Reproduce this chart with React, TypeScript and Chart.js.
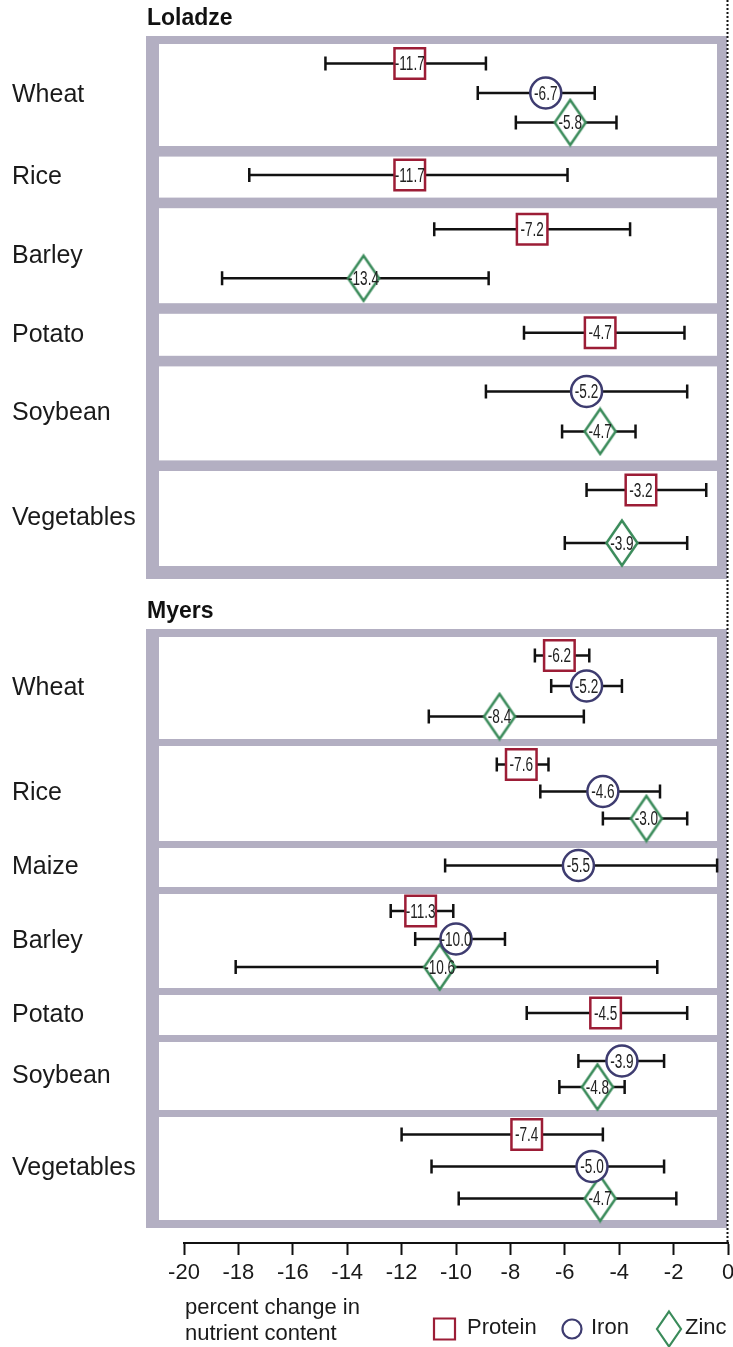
import React, { useEffect, useRef } from 'react';
import { Chart, registerables } from 'chart.js';

Chart.register(...registerables);

// ---------- DATA ----------
const sectionTitles = ['Loladze', 'Myers'];
const nutrientNames = ['Protein', 'Iron', 'Zinc'];

const loladzeCrops = ['Wheat', 'Rice', 'Barley', 'Potato', 'Soybean', 'Vegetables'];
const loladzeProtein = [-11.7, -11.7, -7.2, -4.7, null, -3.2];
const loladzeProteinLow = [-14.8, -17.6, -10.8, -7.5, null, -5.2];
const loladzeProteinHigh = [-8.9, -5.9, -3.6, -1.6, null, -0.8];
const loladzeIron = [-6.7, null, null, null, -5.2, null];
const loladzeIronLow = [-9.2, null, null, null, -8.9, null];
const loladzeIronHigh = [-4.9, null, null, null, -1.5, null];
const loladzeZinc = [-5.8, null, -13.4, null, -4.7, -3.9];
const loladzeZincLow = [-7.8, null, -18.6, null, -6.1, -6.0];
const loladzeZincHigh = [-4.1, null, -8.8, null, -3.4, -1.5];

const myersCrops = ['Wheat', 'Rice', 'Maize', 'Barley', 'Potato', 'Soybean', 'Vegetables'];
const myersProtein = [-6.2, -7.6, null, -11.3, -4.5, null, -7.4];
const myersProteinLow = [-7.1, -8.5, null, -12.4, -7.4, null, -12.0];
const myersProteinHigh = [-5.1, -6.6, null, -10.1, -1.5, null, -4.6];
const myersIron = [-5.2, -4.6, -5.5, -10.0, null, -3.9, -5.0];
const myersIronLow = [-6.5, -6.9, -10.4, -11.5, null, -5.5, -10.9];
const myersIronHigh = [-3.9, -2.5, -0.4, -8.2, null, -2.35, -2.35];
const myersZinc = [-8.4, -3.0, null, -10.6, null, -4.8, -4.7];
const myersZincLow = [-11.0, -4.6, null, -18.1, null, -6.2, -9.9];
const myersZincHigh = [-5.3, -1.5, null, -2.6, null, -3.8, -1.9];

const xTicks = [-20, -18, -16, -14, -12, -10, -8, -6, -4, -2, 0];
const axisTitleLines = ['percent change in', 'nutrient content'];

// ---------- LAYOUT (vertical units of the y scale) ----------
const loladzeRowHeights = [102, 41, 95, 42, 94, 95];
const loladzeSpacing = [29.5, 0, 49, 0, 40, 53];
const myersRowHeights = [102, 95, 39, 94, 40, 68, 103];
const myersSpacing = [30.5, 27, 0, 28, 0, 26, 32];
const TITLE_BAND = 36;
const BORDER_TOP = 8;
const BORDER_BOTTOM = [13, 8];
const ROW_GAP = [10.6, 7];
const SECTION_GAP = 50;
const AXIS_GAP = 15;
const MARKER_SHIFT = -2;

const COLORS = ['#9c1d36', '#3e3c70', '#3a8b5a'];
const FRAME_COLOR = '#b3afc2';
const FONT = '"Liberation Sans", Arial, sans-serif';

type Sec = {
  crops: string[];
  heights: number[];
  spacing: number[];
  series: { v: (number | null)[]; lo: (number | null)[]; hi: (number | null)[] }[];
};

const sectionsInput: Sec[] = [
  {
    crops: loladzeCrops,
    heights: loladzeRowHeights,
    spacing: loladzeSpacing,
    series: [
      { v: loladzeProtein, lo: loladzeProteinLow, hi: loladzeProteinHigh },
      { v: loladzeIron, lo: loladzeIronLow, hi: loladzeIronHigh },
      { v: loladzeZinc, lo: loladzeZincLow, hi: loladzeZincHigh },
    ],
  },
  {
    crops: myersCrops,
    heights: myersRowHeights,
    spacing: myersSpacing,
    series: [
      { v: myersProtein, lo: myersProteinLow, hi: myersProteinHigh },
      { v: myersIron, lo: myersIronLow, hi: myersIronHigh },
      { v: myersZinc, lo: myersZincLow, hi: myersZincHigh },
    ],
  },
];

function buildLayout() {
  let y = TITLE_BAND;
  const sections: any[] = [];
  const allRows: { center: number; name: string }[] = [];
  const points: any[][] = [[], [], []];
  sectionsInput.forEach((s, si) => {
    const frameTop = y;
    let rowY = y + BORDER_TOP;
    const rows = s.heights.map((h, i) => {
      const r = { top: rowY, bottom: rowY + h, center: rowY + h / 2 };
      rowY += h + ROW_GAP[si];
      allRows.push({ center: r.center, name: s.crops[i] });
      const present = [0, 1, 2].filter((k) => s.series[k].v[i] !== null);
      const n = present.length;
      present.forEach((k, idx) => {
        const my = r.center + MARKER_SHIFT + (idx - (n - 1) / 2) * s.spacing[i];
        points[k].push({ x: s.series[k].v[i], y: my, low: s.series[k].lo[i], high: s.series[k].hi[i] });
      });
      return r;
    });
    const frameBottom = rows[rows.length - 1].bottom + BORDER_BOTTOM[si];
    sections.push({ title: sectionTitles[si], frameTop, frameBottom, rows });
    y = frameBottom + SECTION_GAP;
  });
  const last = sections[sections.length - 1];
  const yMax = last.frameBottom + AXIS_GAP;
  return { sections, allRows, points, yMax };
}

function makeDiamond(w: number, h: number, color: string, lw: number) {
  const c = document.createElement('canvas');
  c.width = Math.ceil(w + lw * 2);
  c.height = Math.ceil(h + lw * 2);
  const g = c.getContext('2d')!;
  const cx = c.width / 2, cy = c.height / 2;
  g.beginPath();
  g.moveTo(cx, cy - h / 2);
  g.lineTo(cx + w / 2, cy);
  g.lineTo(cx, cy + h / 2);
  g.lineTo(cx - w / 2, cy);
  g.closePath();
  g.fillStyle = '#fff';
  g.fill();
  g.lineWidth = lw;
  g.strokeStyle = color;
  g.lineJoin = 'miter';
  g.stroke();
  return c;
}

export default function App() {
  const ref = useRef<HTMLCanvasElement>(null);

  useEffect(() => {
    document.body.style.margin = '0';
    const canvas = ref.current!;
    const L = buildLayout();
    const diamond = makeDiamond(31, 45, COLORS[2], 2.5);

    const plugin = {
      id: 'forest',
      beforeDatasetsDraw(chart: any) {
        const { ctx, chartArea, scales } = chart;
        const x = scales.x, y = scales.y;
        ctx.save();
        const x0 = x.getPixelForValue(0);
        const outerL = chartArea.left - 38, outerR = x0 - 1;
        const innerL = chartArea.left - 25, innerR = x0 - 11;
        for (const sec of L.sections) {
          const t = y.getPixelForValue(sec.frameTop), b = y.getPixelForValue(sec.frameBottom);
          ctx.fillStyle = FRAME_COLOR;
          ctx.fillRect(outerL, t, outerR - outerL, b - t);
          ctx.fillStyle = '#ffffff';
          for (const r of sec.rows) {
            const rt = y.getPixelForValue(r.top), rb = y.getPixelForValue(r.bottom);
            ctx.fillRect(innerL, rt, innerR - innerL, rb - rt);
          }
        }
        ctx.strokeStyle = '#111';
        ctx.lineWidth = 2.5;
        ctx.lineCap = 'butt';
        chart.data.datasets.forEach((ds: any) => {
          ds.data.forEach((p: any) => {
            const py = y.getPixelForValue(p.y);
            const xl = x.getPixelForValue(p.low), xh = x.getPixelForValue(p.high);
            ctx.beginPath();
            ctx.moveTo(xl, py); ctx.lineTo(xh, py);
            ctx.moveTo(xl, py - 7); ctx.lineTo(xl, py + 7);
            ctx.moveTo(xh, py - 7); ctx.lineTo(xh, py + 7);
            ctx.stroke();
          });
        });
        ctx.restore();
      },
      afterDatasetsDraw(chart: any) {
        const { ctx, chartArea, scales } = chart;
        const x = scales.x, y = scales.y;
        ctx.save();
        ctx.fillStyle = '#222';
        ctx.font = `20px ${FONT}`;
        ctx.textAlign = 'center';
        ctx.textBaseline = 'middle';
        chart.data.datasets.forEach((ds: any, di: number) => {
          const meta = chart.getDatasetMeta(di);
          meta.data.forEach((el: any, j: number) => {
            const txt = ds.data[j].x.toFixed(1);
            ctx.save();
            ctx.translate(el.x, el.y + 1);
            ctx.scale(0.68, 1);
            ctx.fillText(txt, 0, 0);
            ctx.restore();
          });
        });
        const x0 = x.getPixelForValue(0);
        ctx.strokeStyle = '#111';
        ctx.lineWidth = 2;
        ctx.setLineDash([2, 2]);
        ctx.beginPath();
        ctx.moveTo(x0 - 0.5, 0);
        ctx.lineTo(x0 - 0.5, chartArea.bottom);
        ctx.stroke();
        ctx.setLineDash([]);
        ctx.fillStyle = '#111';
        ctx.font = `bold 23px ${FONT}`;
        ctx.textAlign = 'left';
        for (const sec of L.sections) {
          ctx.fillText(sec.title, chartArea.left - 37, y.getPixelForValue(sec.frameTop) - 17);
        }
        ctx.restore();
      },
      afterDraw(chart: any) {
        const { ctx, chartArea } = chart;
        ctx.save();
        ctx.fillStyle = '#1a1a1a';
        ctx.font = `22px ${FONT}`;
        ctx.textAlign = 'left';
        ctx.textBaseline = 'middle';
        axisTitleLines.forEach((t, i) => ctx.fillText(t, chartArea.left + 1, chartArea.bottom + 65 + i * 26));
        const ly = chartArea.bottom + 86;
        const starts = [433, 562, 656];
        ctx.lineWidth = 2.2;
        nutrientNames.forEach((name, i) => {
          const lx = starts[i];
          ctx.strokeStyle = COLORS[i];
          let tx = lx;
          ctx.beginPath();
          if (i === 0) {
            ctx.rect(lx + 1, ly - 10.5, 21, 21);
            tx = lx + 34;
          } else if (i === 1) {
            ctx.arc(lx + 10, ly, 9.5, 0, Math.PI * 2);
            tx = lx + 29;
          } else {
            ctx.moveTo(lx + 13, ly - 17.5);
            ctx.lineTo(lx + 25, ly);
            ctx.lineTo(lx + 13, ly + 17.5);
            ctx.lineTo(lx + 1, ly);
            ctx.closePath();
            tx = lx + 29;
          }
          ctx.stroke();
          ctx.font = `22px ${FONT}`;
          ctx.fillText(name, tx, ly - 1);
        });
        ctx.restore();
      },
    };

    const chart = new Chart(canvas, {
      type: 'scatter',
      data: {
        datasets: nutrientNames.map((name, i) => ({
          label: name,
          data: L.points[i],
          borderColor: COLORS[i],
          backgroundColor: '#ffffff',
          borderWidth: 2.5,
          pointStyle: i === 0 ? 'rect' : i === 1 ? 'circle' : (diamond as any),
          pointRadius: i === 0 ? 21.6 : i === 1 ? 15.5 : 20,
          pointHoverRadius: i === 0 ? 21.6 : i === 1 ? 15.5 : 20,
          clip: false as any,
        })),
      },
      options: {
        responsive: false,
        animation: false,
        events: [],
        layout: { autoPadding: false, padding: { left: 12, right: 5, top: 0, bottom: 0 } },
        plugins: { legend: { display: false }, tooltip: { enabled: false } },
        scales: {
          x: {
            type: 'linear',
            position: 'bottom',
            min: -20,
            max: 0,
            afterBuildTicks: (axis: any) => {
              axis.ticks = xTicks.map((v) => ({ value: v }));
            },
            afterFit: (scale: any) => {
              scale.height = 104;
              scale.paddingLeft = 0;
              scale.paddingRight = 0;
            },
            ticks: {
              autoSkip: false,
              maxRotation: 0,
              padding: 5,
              color: '#1a1a1a',
              font: { family: FONT, size: 22 },
              callback: (v: any) => String(v),
            },
            grid: {
              drawOnChartArea: false,
              drawTicks: true,
              tickLength: 12,
              tickWidth: 2,
              tickColor: '#111',
            },
            border: { display: true, color: '#111', width: 2 },
          },
          y: {
            type: 'linear',
            position: 'left',
            reverse: true,
            min: 0,
            max: L.yMax,
            afterBuildTicks: (axis: any) => {
              axis.ticks = L.allRows.map((r) => ({ value: r.center }));
            },
            afterFit: (scale: any) => {
              scale.width = 172;
              scale.paddingTop = 0;
              scale.paddingBottom = 0;
            },
            ticks: {
              autoSkip: false,
              crossAlign: 'far',
              padding: 0,
              color: '#1a1a1a',
              font: { family: FONT, size: 25 },
              callback: (_v: any, i: number) => L.allRows[i].name,
            },
            grid: { display: false },
            border: { display: false },
          },
        },
      },
      plugins: [plugin],
    } as any);

    return () => chart.destroy();
  }, []);

  return (
    <div style={{ width: 733, height: 1347 }}>
      <canvas ref={ref} width={733} height={1347} style={{ display: 'block' }} />
    </div>
  );
}
